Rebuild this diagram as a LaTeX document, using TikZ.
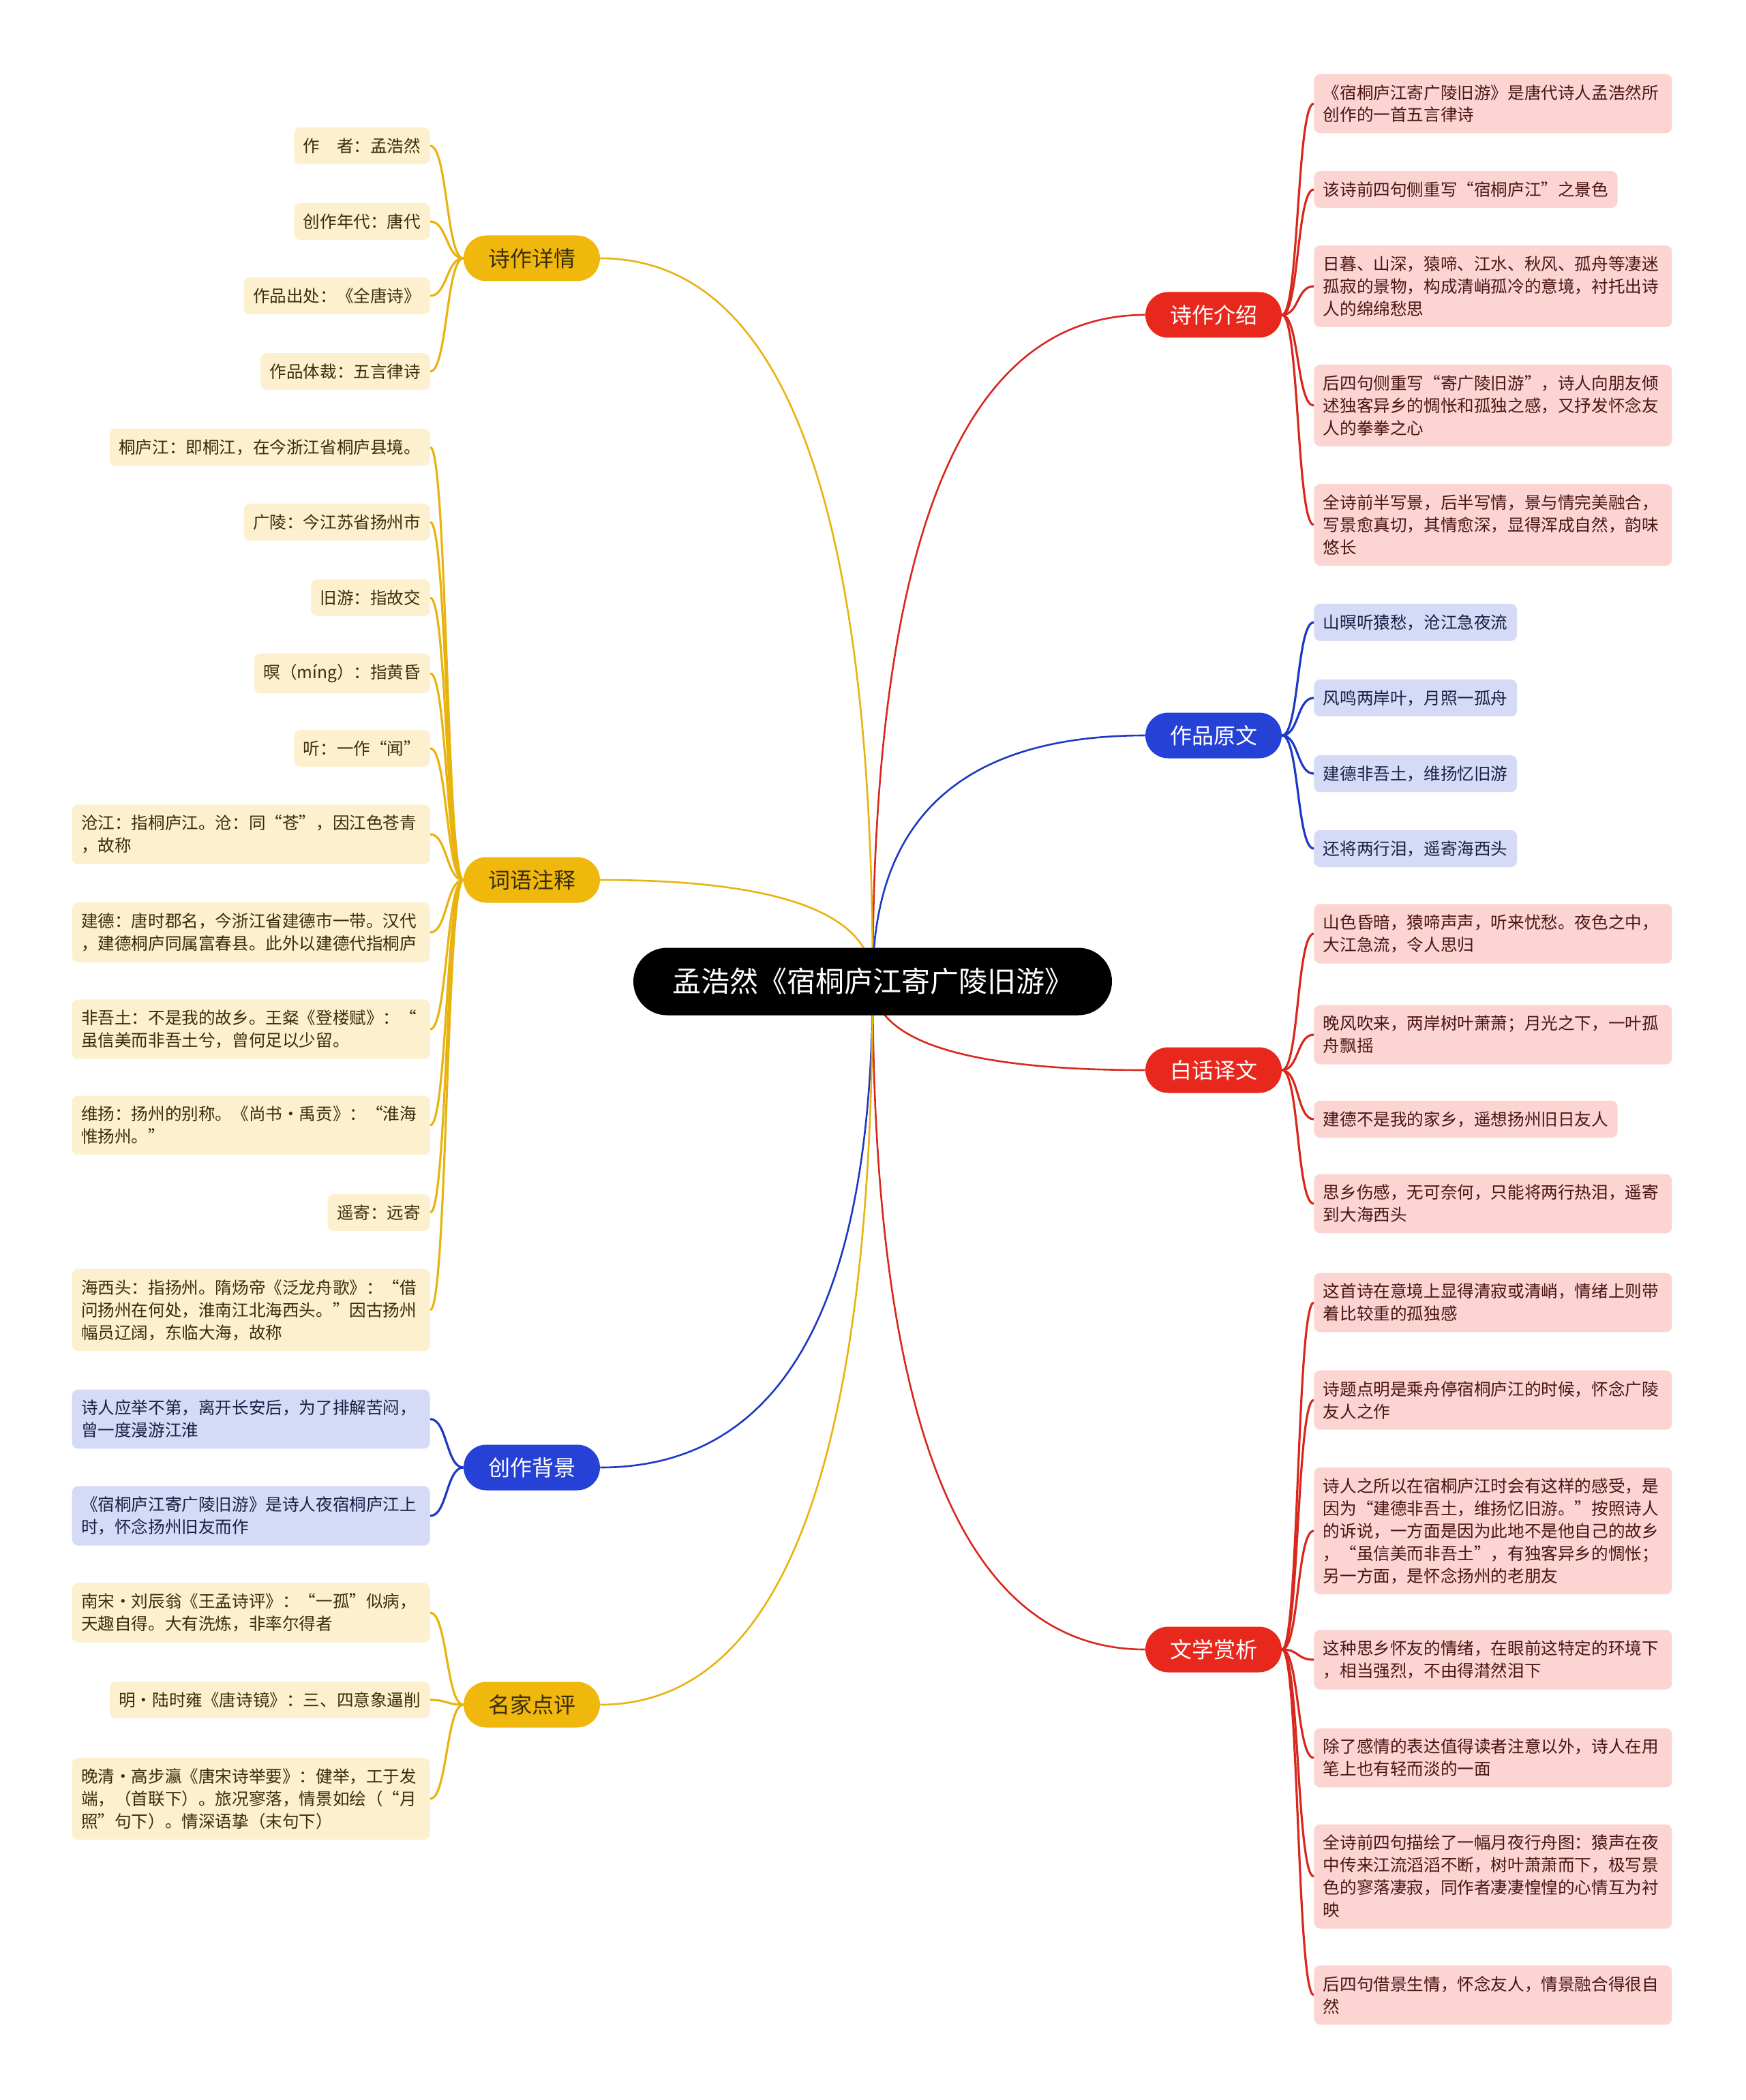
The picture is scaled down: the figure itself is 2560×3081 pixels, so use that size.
\documentclass[tikz,border=0pt]{standalone}
\usepackage{fontspec}
\setmainfont{Noto Sans CJK SC}
\usetikzlibrary{backgrounds}
\definecolor{redline}{HTML}{D8281D}
\definecolor{redhub}{HTML}{E8281D}
\definecolor{redleaf}{HTML}{FCD5D2}
\definecolor{redink}{HTML}{4A1512}
\definecolor{blueline}{HTML}{1F38C4}
\definecolor{bluehub}{HTML}{2541D6}
\definecolor{blueleaf}{HTML}{D5DAF6}
\definecolor{blueink}{HTML}{1B1F45}
\definecolor{yelline}{HTML}{E8B30F}
\definecolor{yelhub}{HTML}{F0B70C}
\definecolor{yelleaf}{HTML}{FCF0CE}
\definecolor{yelink}{HTML}{3A2D0C}
\tikzset{
  root/.style={fill=black,text=white,rounded corners=24.75pt,minimum width=351pt,minimum height=49.5pt,font=\fontsize{21}{24}\selectfont},
  hub/.style={rounded corners=16.75pt,minimum width=100pt,minimum height=33.5pt,font=\fontsize{16}{19}\selectfont},
  leaf/.style={rounded corners=4.5pt,inner xsep=6.75pt,inner ysep=7.75pt,align=left,font=\fontsize{12.3}{16.5}\selectfont},
  wide/.style={text width=249pt},
  rleaf/.style={leaf,fill=redleaf,text=redink,anchor=west},
  bleaf/.style={leaf,fill=blueleaf,text=blueink,anchor=west},
  lbleaf/.style={leaf,fill=blueleaf,text=blueink,anchor=east},
  yleaf/.style={leaf,fill=yelleaf,text=yelink,anchor=east},
  link/.style={line width=1.3pt},
  twig/.style={line width=1.6pt}
}

\begin{document}
\begin{tikzpicture}[x=0.5pt,y=-0.5pt]
  \useasboundingbox (0,0) rectangle (2560,3081);
  \node[root] (root) at (1280,1440) {孟浩然《宿桐庐江寄广陵旧游》};

  \node[hub,fill=redhub,text=white] (sj) at (1780,462) {诗作介绍};
  \node[hub,fill=bluehub,text=white] (yw) at (1780,1079) {作品原文};
  \node[hub,fill=redhub,text=white] (bh) at (1780,1570) {白话译文};
  \node[hub,fill=redhub,text=white] (wx) at (1780,2420) {文学赏析};
  \node[hub,fill=yelhub,text=yelink] (xq) at (780,379) {诗作详情};
  \node[hub,fill=yelhub,text=yelink] (zs) at (780,1291) {词语注释};
  \node[hub,fill=bluehub,text=white] (bj) at (780,2153) {创作背景};
  \node[hub,fill=yelhub,text=yelink] (dp) at (780,2501) {名家点评};

  \node[rleaf,wide] (sj1) at (1927,152) {《宿桐庐江寄广陵旧游》是唐代诗人孟浩然所\\创作的一首五言律诗};
  \node[rleaf] (sj2) at (1927,278) {该诗前四句侧重写“宿桐庐江”之景色};
  \node[rleaf,wide] (sj3) at (1927,420) {日暮、山深，猿啼、江水、秋风、孤舟等凄迷\\孤寂的景物，构成清峭孤冷的意境，衬托出诗\\人的绵绵愁思};
  \node[rleaf,wide] (sj4) at (1927,595) {后四句侧重写“寄广陵旧游”，诗人向朋友倾\\述独客异乡的惆怅和孤独之感，又抒发怀念友\\人的拳拳之心};
  \node[rleaf,wide] (sj5) at (1927,770) {全诗前半写景，后半写情，景与情完美融合，\\写景愈真切，其情愈深，显得浑成自然，韵味\\悠长};

  \node[bleaf] (yw1) at (1927,913) {山暝听猿愁，沧江急夜流};
  \node[bleaf] (yw2) at (1927,1024) {风鸣两岸叶，月照一孤舟};
  \node[bleaf] (yw3) at (1927,1135) {建德非吾土，维扬忆旧游};
  \node[bleaf] (yw4) at (1927,1245) {还将两行泪，遥寄海西头};

  \node[rleaf,wide] (bh1) at (1927,1370) {山色昏暗，猿啼声声，听来忧愁。夜色之中，\\大江急流，令人思归};
  \node[rleaf,wide] (bh2) at (1927,1518) {晚风吹来，两岸树叶萧萧；月光之下，一叶孤\\舟飘摇};
  \node[rleaf] (bh3) at (1927,1642) {建德不是我的家乡，遥想扬州旧日友人};
  \node[rleaf,wide] (bh4) at (1927,1766) {思乡伤感，无可奈何，只能将两行热泪，遥寄\\到大海西头};

  \node[rleaf,wide] (wx1) at (1927,1911) {这首诗在意境上显得清寂或清峭，情绪上则带\\着比较重的孤独感};
  \node[rleaf,wide] (wx2) at (1927,2054) {诗题点明是乘舟停宿桐庐江的时候，怀念广陵\\友人之作};
  \node[rleaf,wide] (wx3) at (1927,2246) {诗人之所以在宿桐庐江时会有这样的感受，是\\因为“建德非吾土，维扬忆旧游。”按照诗人\\的诉说，一方面是因为此地不是他自己的故乡\\，“虽信美而非吾土”，有独客异乡的惆怅；\\另一方面，是怀念扬州的老朋友};
  \node[rleaf,wide] (wx4) at (1927,2435) {这种思乡怀友的情绪，在眼前这特定的环境下\\，相当强烈，不由得潸然泪下};
  \node[rleaf,wide] (wx5) at (1927,2579) {除了感情的表达值得读者注意以外，诗人在用\\笔上也有轻而淡的一面};
  \node[rleaf,wide] (wx6) at (1927,2753) {全诗前四句描绘了一幅月夜行舟图：猿声在夜\\中传来江流滔滔不断，树叶萧萧而下，极写景\\色的寥落凄寂，同作者凄凄惶惶的心情互为衬\\映};
  \node[rleaf,wide] (wx7) at (1927,2927) {后四句借景生情，怀念友人，情景融合得很自\\然};

  \node[yleaf] (xq1) at (631,214) {作　者：孟浩然};
  \node[yleaf] (xq2) at (631,325) {创作年代：唐代};
  \node[yleaf] (xq3) at (631,434) {作品出处：《全唐诗》};
  \node[yleaf] (xq4) at (631,545) {作品体裁：五言律诗};

  \node[yleaf] (zs1) at (631,656) {桐庐江：即桐江，在今浙江省桐庐县境。};
  \node[yleaf] (zs2) at (631,766) {广陵：今江苏省扬州市};
  \node[yleaf] (zs3) at (631,877) {旧游：指故交};
  \node[yleaf] (zs4) at (631,988) {暝（míng）：指黄昏};
  \node[yleaf] (zs5) at (631,1098) {听：一作“闻”};
  \node[yleaf,wide] (zs6) at (631,1224) {沧江：指桐庐江。沧：同“苍”，因江色苍青\\，故称};
  \node[yleaf,wide] (zs7) at (631,1368) {建德：唐时郡名，今浙江省建德市一带。汉代\\，建德桐庐同属富春县。此外以建德代指桐庐};
  \node[yleaf,wide] (zs8) at (631,1510) {非吾土：不是我的故乡。王粲《登楼赋》：“\\虽信美而非吾土兮，曾何足以少留。};
  \node[yleaf,wide] (zs9) at (631,1651) {维扬：扬州的别称。《尚书·禹贡》：“淮海\\惟扬州。”};
  \node[yleaf] (zs10) at (631,1779) {遥寄：远寄};
  \node[yleaf,wide] (zs11) at (631,1922) {海西头：指扬州。隋炀帝《泛龙舟歌》：“借\\问扬州在何处，淮南江北海西头。”因古扬州\\幅员辽阔，东临大海，故称};

  \node[lbleaf,wide] (bj1) at (631,2082) {诗人应举不第，离开长安后，为了排解苦闷，\\曾一度漫游江淮};
  \node[lbleaf,wide] (bj2) at (631,2224) {《宿桐庐江寄广陵旧游》是诗人夜宿桐庐江上\\时，怀念扬州旧友而作};

  \node[yleaf,wide] (dp1) at (631,2366) {南宋·刘辰翁《王孟诗评》：“一孤”似病，\\天趣自得。大有洗炼，非率尔得者};
  \node[yleaf] (dp2) at (631,2494) {明·陆时雍《唐诗镜》：三、四意象逼削};
  \node[yleaf,wide] (dp3) at (631,2639) {晚清·高步瀛《唐宋诗举要》：健举，工于发\\端，（首联下）。旅况寥落，情景如绘（“月\\照”句下）。情深语挚（末句下）};

  \begin{scope}[on background layer]
    \draw[redline,link] (root.center) .. controls (1280,788) and (1413,462) .. (sj.west);
    \draw[blueline,link] (root.center) .. controls (1280,1199) and (1413,1079) .. (yw.west);
    \draw[redline,link] (root.center) .. controls (1280,1527) and (1413,1570) .. (bh.west);
    \draw[redline,link] (root.center) .. controls (1280,2093) and (1413,2420) .. (wx.west);
    \draw[yelline,link] (root.center) .. controls (1280,733) and (1147,379) .. (xq.east);
    \draw[yelline,link] (root.center) .. controls (1280,1341) and (1147,1291) .. (zs.east);
    \draw[blueline,link] (root.center) .. controls (1280,1915) and (1147,2153) .. (bj.east);
    \draw[yelline,link] (root.center) .. controls (1280,2147) and (1147,2501) .. (dp.east);

    \foreach \n in {1,...,5}
      \draw[redline,twig] (sj.east) .. controls +(25,0) and +(-25,0) .. (sj\n.west);
    \foreach \n in {1,...,4}
      \draw[blueline,twig] (yw.east) .. controls +(25,0) and +(-25,0) .. (yw\n.west);
    \foreach \n in {1,...,4}
      \draw[redline,twig] (bh.east) .. controls +(25,0) and +(-25,0) .. (bh\n.west);
    \foreach \n in {1,...,7}
      \draw[redline,twig] (wx.east) .. controls +(25,0) and +(-25,0) .. (wx\n.west);
    \foreach \n in {1,...,4}
      \draw[yelline,twig] (xq.west) .. controls +(-25,0) and +(25,0) .. (xq\n.east);
    \foreach \n in {1,...,11}
      \draw[yelline,twig] (zs.west) .. controls +(-25,0) and +(25,0) .. (zs\n.east);
    \foreach \n in {1,2}
      \draw[blueline,twig] (bj.west) .. controls +(-25,0) and +(25,0) .. (bj\n.east);
    \foreach \n in {1,...,3}
      \draw[yelline,twig] (dp.west) .. controls +(-25,0) and +(25,0) .. (dp\n.east);
  \end{scope}
\end{tikzpicture}
\end{document}
